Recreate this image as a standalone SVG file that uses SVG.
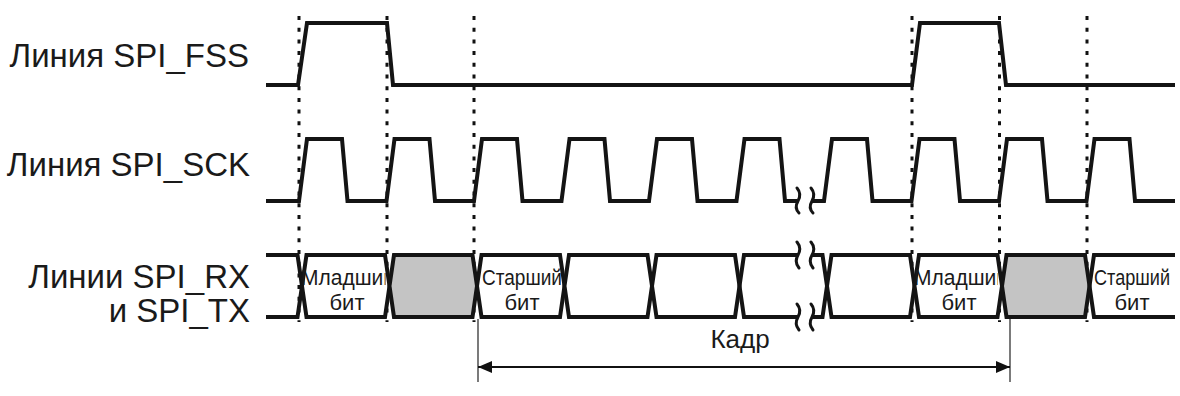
<svg xmlns="http://www.w3.org/2000/svg" width="1180" height="396" viewBox="0 0 1180 396">
<style>
.lbl{font-family:"Liberation Sans",Arial,sans-serif;font-size:33px;fill:#1a1a1a;text-anchor:end}
.cell{font-family:"Liberation Sans",Arial,sans-serif;font-size:22px;fill:#1a1a1a;text-anchor:middle}
.kadr{font-family:"Liberation Sans",Arial,sans-serif;font-size:26px;fill:#1a1a1a;text-anchor:middle}
.wave{fill:none;stroke:#141414;stroke-width:4;stroke-linejoin:miter;stroke-miterlimit:3}
.box{stroke:#141414;stroke-width:4;stroke-linejoin:miter;stroke-miterlimit:3}
.w{fill:#fff}
.g{fill:#c4c4c4}
.sq{fill:none;stroke:#141414;stroke-width:3;stroke-linecap:round}
.dot{stroke:#111;stroke-width:3;stroke-dasharray:4 7.7}
.dim{stroke:#333;stroke-width:1.3;fill:none}
</style>
<defs>
<marker id="ah" viewBox="0 0 14 12" refX="14" refY="6" markerWidth="14" markerHeight="12" markerUnits="userSpaceOnUse" orient="auto-start-reverse">
<path d="M0,0 L14,6 L0,12 z" fill="#111"/>
</marker>
<clipPath id="c1"><rect x="302" y="258" width="83.5" height="56"/></clipPath>
<clipPath id="c2"><rect x="477" y="258" width="84" height="56"/></clipPath>
<clipPath id="c3"><rect x="914.5" y="258" width="83.5" height="56"/></clipPath>
</defs>

<g id="labels">
<text class="lbl" x="249" y="67">Линия SPI_FSS</text>
<text class="lbl" x="250" y="176">Линия SPI_SCK</text>
<text class="lbl" x="250" y="288">Линии SPI_RX</text>
<text class="lbl" x="250" y="322">и SPI_TX</text>
</g>

<g id="grid">
<line class="dot" x1="299" y1="16" x2="299" y2="322"/>
<line class="dot" x1="387" y1="16" x2="387" y2="322"/>
<line class="dot" x1="474" y1="16" x2="474" y2="322"/>
<line class="dot" x1="912" y1="16" x2="912" y2="322"/>
<line class="dot" x1="999.5" y1="16" x2="999.5" y2="322"/>
<line class="dot" x1="1087" y1="16" x2="1087" y2="322"/>
</g>

<g id="fss">
<path class="wave" d="M266,85 L298,85 L307,23 L387,23 L393,85 L912,85 L920,23 L999,23 L1006,85 L1175,85"/>
</g>

<g id="sck">
<path class="wave" d="M266,201 L299,201 L307,139 L342,139 L347.5,201 L386.5,201 L394.5,139 L429.5,139 L435,201 L474,201 L482,139 L517,139 L522.5,201 L561.5,201 L569.5,139 L604.5,139 L610,201 L649,201 L657,139 L692,139 L697.5,201 L736.5,201 L744.5,139 L779.5,139 L785,201 L797,201"/>
<path class="wave" d="M812,201 L824,201 L832,139 L867,139 L872.5,201 L911.5,201 L919.5,139 L954.5,139 L960,201 L999,201 L1007,139 L1042,139 L1047.5,201 L1086.5,201 L1094.5,139 L1129.5,139 L1135,201 L1175,201"/>
<path class="sq" d="M797,188 Q802,194 798,201 Q794,208 799,213"/>
<path class="sq" d="M811,188 Q816,194 812,201 Q808,208 813,213"/>
</g>

<g id="data">
<path class="wave" d="M266,255 L297.5,255 L302,286 L297.5,317 L266,317"/>
<polygon class="box w" points="302,286 306.5,255 385,255 389.5,286 385,317 306.5,317"/>
<polygon class="box g" points="389.5,286 394,255 472.5,255 477,286 472.5,317 394,317"/>
<polygon class="box w" points="477,286 481.5,255 560,255 564.5,286 560,317 481.5,317"/>
<polygon class="box w" points="564.5,286 569,255 647.5,255 652,286 647.5,317 569,317"/>
<polygon class="box w" points="652,286 656.5,255 735,255 739.5,286 735,317 656.5,317"/>
<path class="wave" d="M798,255 L744,255 L739.5,286 L744,317 L798,317"/>
<path class="wave" d="M812,255 L822.5,255 L827,286 L822.5,317 L812,317"/>
<polygon class="box w" points="827,286 831.5,255 910,255 914.5,286 910,317 831.5,317"/>
<polygon class="box w" points="914.5,286 919,255 997.5,255 1002,286 997.5,317 919,317"/>
<polygon class="box g" points="1002,286 1006.5,255 1085,255 1089.5,286 1085,317 1006.5,317"/>
<path class="wave" d="M1175,255 L1094,255 L1089.5,286 L1094,317 L1175,317"/>
<path class="sq" d="M797,242 Q802,248 798,255 Q794,262 799,268"/>
<path class="sq" d="M811,242 Q816,248 812,255 Q808,262 813,268"/>
<path class="sq" d="M797,304 Q802,310 798,317 Q794,324 799,330"/>
<path class="sq" d="M811,304 Q816,310 812,317 Q808,324 813,330"/>
</g>

<g id="cell-texts">
<g clip-path="url(#c1)">
<text class="cell" x="348" y="285" textLength="94" lengthAdjust="spacingAndGlyphs">Младший</text>
<text class="cell" x="347" y="310">бит</text>
</g>
<g clip-path="url(#c2)">
<text class="cell" x="522" y="285" textLength="80" lengthAdjust="spacingAndGlyphs">Старший</text>
<text class="cell" x="522" y="310">бит</text>
</g>
<g clip-path="url(#c3)">
<text class="cell" x="961" y="285" textLength="94" lengthAdjust="spacingAndGlyphs">Младший</text>
<text class="cell" x="959" y="310">бит</text>
</g>
<text class="cell" x="1132" y="285" textLength="76" lengthAdjust="spacingAndGlyphs">Старший</text>
<text class="cell" x="1132" y="310">бит</text>
</g>

<g id="connectors">
<line class="dim" x1="478" y1="319" x2="478" y2="382"/>
<line class="dim" x1="1010" y1="319" x2="1010" y2="382"/>
<line x1="478" y1="367" x2="1010" y2="367" stroke="#111" stroke-width="2" marker-start="url(#ah)" marker-end="url(#ah)"/>
<text class="kadr" x="740" y="348">Кадр</text>
</g>
</svg>
